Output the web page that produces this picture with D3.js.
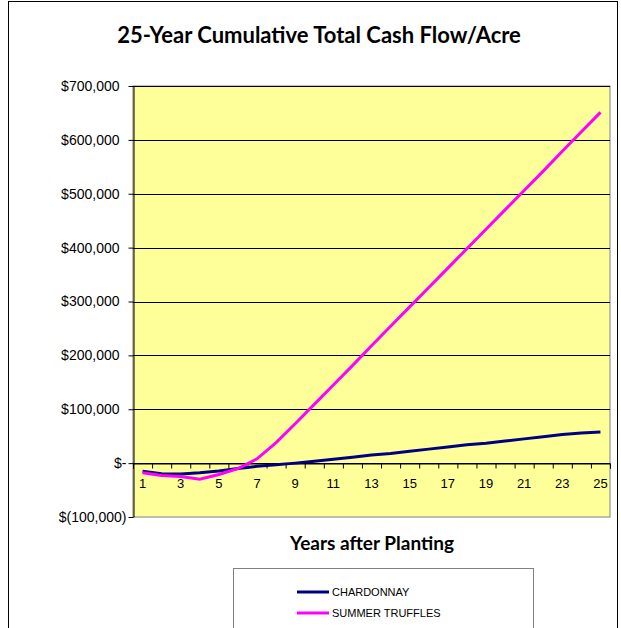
<!DOCTYPE html>
<html>
<head>
<meta charset="utf-8">
<script src="https://cdn.jsdelivr.net/npm/d3@7"></script>
<style>
  body { margin: 0; background: #fff; }
  svg { display: block; }
</style>
</head>
<body>
<div id="chart"></div>
<script>
// chart values
const years = [1, 2, 3, 4, 5, 6, 7, 8, 9, 10, 11, 12, 13, 14, 15, 16, 17, 18, 19, 20, 21, 22, 23, 24, 25];
const chardonnay = [-15000, -19500, -20000, -18000, -14500, -10000, -6000, -3000, 0, 3500, 7000, 11000,
  15000, 18000, 22000, 26000, 30000, 34000, 37000, 41000, 45000, 49000, 53000, 56000, 58000];
const truffles = [-18000, -23000, -25000, -30000, -21000, -10000, 8000, 38000, 73000, 109000, 145000, 181000,
  218000, 254000, 290000, 326000, 362000, 398000, 434000, 470000, 506000, 542000, 579000, 615000, 651000];
const yTicks = [-100000, 0, 100000, 200000, 300000, 400000, 500000, 600000, 700000];
const seriesNames = ["CHARDONNAY", "SUMMER TRUFFLES"];
const seriesColors = ["#000080", "#FF00FF"];

const W = 621, H = 628;
const plot = { left: 133, right: 610, top: 86, bottom: 517 };

const svg = d3.select("#chart").append("svg")
  .attr("width", W)
  .attr("height", H);

//Outer chart frame
svg.append("rect")
  .attr("x", 8.5).attr("y", 1.5)
  .attr("width", 609).attr("height", 700)
  .attr("fill", "#fff")
  .attr("stroke", "#000")
  .attr("stroke-width", 1);

//Title
svg.append("text")
  .attr("x", 319).attr("y", 43)
  .attr("text-anchor", "middle")
  .style("font-family", "Lato, 'Open Sans', sans-serif")
  .style("font-weight", "bold")
  .style("font-size", "22px")
  .text("25-Year Cumulative Total Cash Flow/Acre");

const x = d3.scaleBand().domain(years).range([plot.left, plot.right]);
const xEdge = d3.scaleLinear().domain([0, years.length]).range([plot.left, plot.right]);
const y = d3.scaleLinear().domain([-100000, 700000]).range([plot.bottom, plot.top]);

//Plot area
svg.append("rect")
  .attr("x", plot.left).attr("y", plot.top)
  .attr("width", plot.right - plot.left).attr("height", plot.bottom - plot.top)
  .attr("fill", "#FFFF99")
  .attr("stroke", "#808080")
  .attr("stroke-width", 1);

//Gridlines
svg.append("g")
  .selectAll("line")
  .data(yTicks.filter(d => d > -100000))
  .enter()
  .append("line")
  .attr("x1", plot.left).attr("x2", plot.right)
  .attr("y1", d => Math.round(y(d)) + 0.5)
  .attr("y2", d => Math.round(y(d)) + 0.5)
  .attr("stroke", "#000")
  .attr("stroke-width", 1);

//Y axis
const fmt = d => {
  if (d === 0) return "$-";
  const s = d3.format(",")(Math.abs(d));
  return d < 0 ? `$(${s})` : `$${s}\u2002`;
};
const yAxis = svg.append("g")
  .attr("transform", `translate(${plot.left + 0.5},0)`)
  .call(d3.axisLeft(y).tickValues(yTicks).tickSize(5).tickSizeOuter(0).tickFormat(fmt));
yAxis.select(".domain").attr("stroke", "#000");
yAxis.selectAll("text")
  .attr("x", -7)
  .style("font-family", "'Liberation Sans', Arial, sans-serif")
  .style("font-size", "14px")
  .attr("fill", "#000");

//X axis on the zero line, ticks between categories
const xAxis = svg.append("g")
  .attr("transform", `translate(0,${Math.round(y(0)) + 0.5})`)
  .call(d3.axisBottom(xEdge).tickValues(d3.range(0, years.length + 1)).tickSize(5).tickFormat(""));
xAxis.select(".domain").attr("stroke", "#000");

//Lines
const line = d3.line()
  .x((d, i) => x(years[i]) + x.bandwidth() / 2)
  .y(d => y(d));

[chardonnay, truffles].forEach((vals, k) => {
  svg.append("path")
    .datum(vals)
    .attr("fill", "none")
    .attr("stroke", seriesColors[k])
    .attr("stroke-width", 3)
    .attr("d", line);
});

//Category labels, every other year
svg.append("g")
  .selectAll("text")
  .data(years.filter(d => d % 2 === 1))
  .enter()
  .append("text")
  .attr("x", d => x(d) + x.bandwidth() / 2)
  .attr("y", Math.round(y(0)) + 25)
  .attr("text-anchor", "middle")
  .style("font-family", "'Liberation Sans', Arial, sans-serif")
  .style("font-size", "13px")
  .text(d => d);

//X axis title
svg.append("text")
  .attr("x", 372).attr("y", 550)
  .attr("text-anchor", "middle")
  .style("font-family", "Lato, 'Open Sans', sans-serif")
  .style("font-weight", "bold")
  .style("font-size", "19px")
  .text("Years after Planting");

//Legend
svg.append("rect")
  .attr("x", 233.5).attr("y", 568.5)
  .attr("width", 300).attr("height", 80)
  .attr("fill", "#fff")
  .attr("stroke", "#808080")
  .attr("stroke-width", 1);

const legend = svg.append("g")
  .selectAll("g")
  .data(seriesNames)
  .enter()
  .append("g")
  .attr("transform", (d, i) => `translate(297,${592 + i * 21})`);

legend.append("line")
  .attr("x1", 0).attr("x2", 32)
  .attr("stroke", (d, i) => seriesColors[i])
  .attr("stroke-width", 3);

legend.append("text")
  .attr("x", 35).attr("y", 4)
  .style("font-family", "'Liberation Sans', Arial, sans-serif")
  .style("font-size", "11px")
  .text(d => d);
</script>
</body>
</html>
